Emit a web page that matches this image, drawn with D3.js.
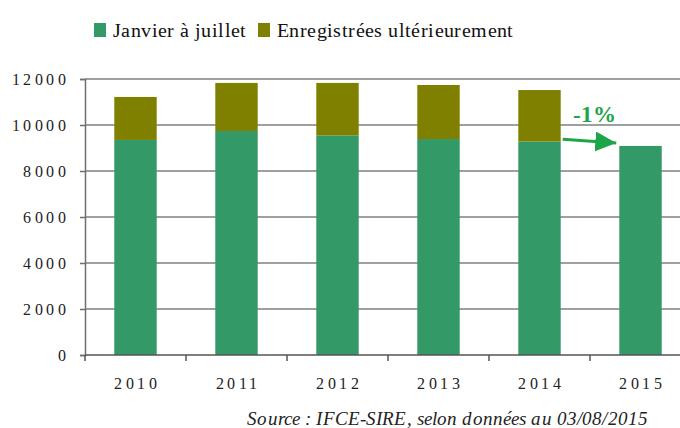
<!DOCTYPE html>
<html>
<head>
<meta charset="utf-8">
<script src="https://cdn.jsdelivr.net/npm/d3@7"></script>
<style>
    @font-face { font-family: "ChartSerif"; src: local("Liberation Serif"), local("LiberationSerif"); font-style: normal; font-weight: 400; }
    @font-face { font-family: "ChartSerif"; src: local("Liberation Serif Bold"), local("LiberationSerif-Bold"); font-style: normal; font-weight: 700; }
    @font-face { font-family: "ChartSerif"; src: local("Liberation Serif Italic"), local("LiberationSerif-Italic"); font-style: italic; font-weight: 400; }
    body { margin: 0; background: #fff; }
    svg { display: block; }
</style>
</head>
<body>
<div id="chart"></div>
<script>
const years = ["2010", "2011", "2012", "2013", "2014", "2015"];
const janToJuly = [9350, 9740, 9550, 9390, 9280, 9090];
const registeredLater = [1870, 2090, 2280, 2350, 2240, 0];
const yTicks = [0, 2000, 4000, 6000, 8000, 10000, 12000];
const seriesNames = ["Janvier à juillet", "Enregistrées ultérieurement"];
const trendLabel = "-1%";
const trendFrom = 9380, trendTo = 9220;

const colors = ["#339966", "#808000"];
const fontFam = "ChartSerif, 'Liberation Serif', 'Times New Roman'";

const width = 680, height = 428;
const margin = {top: 79, left: 85, bottom: 73};
const plotW = 606;

const svg = d3.select("#chart")
    .append("svg")
    .attr("width", width)
    .attr("height", height)
    .style("font-family", fontFam);

const x = d3.scaleBand()
    .domain(years)
    .range([margin.left, margin.left + plotW])
    .paddingInner(0.58)
    .paddingOuter(0.29);

const y = d3.scaleLinear()
    .domain([0, 12000])
    .range([height - margin.bottom, margin.top]);

// gridlines
svg.append("g")
    .selectAll("line")
    .data(yTicks.slice(1))
    .enter()
    .append("line")
    .attr("x1", margin.left)
    .attr("x2", margin.left + plotW)
    .attr("y1", d => y(d))
    .attr("y2", d => y(d))
    .attr("stroke", "#7f7f7f")
    .attr("stroke-width", 1.5);

// stacked bars
const rows = years.map((yr, i) => ({year: yr, a: janToJuly[i], b: registeredLater[i]}));
const stack = d3.stack().keys(["a", "b"])(rows);

svg.append("g")
    .selectAll("g")
    .data(stack)
    .enter()
    .append("g")
    .attr("fill", (d, i) => colors[i])
    .selectAll("rect")
    .data(d => d)
    .enter()
    .append("rect")
    .attr("x", d => x(d.data.year))
    .attr("width", x.bandwidth())
    .attr("y", d => y(d[1]))
    .attr("height", d => y(d[0]) - y(d[1]));

// y axis
const yAxis = svg.append("g")
    .attr("transform", "translate(" + margin.left + ",0)")
    .call(d3.axisLeft(y).tickValues(yTicks).tickSize(5).tickPadding(11).tickFormat(d3.format("d")));
yAxis.attr("font-family", null).attr("font-size", null);
yAxis.select(".domain").attr("stroke", "#6f6f6f").attr("stroke-width", 1.5);
yAxis.selectAll(".tick line").attr("stroke", "#6f6f6f").attr("stroke-width", 1.5);
yAxis.selectAll("text")
    .style("font-family", fontFam)
    .style("font-size", "16px")
    .style("letter-spacing", "3.5px")
    .attr("fill", "#222");

// x axis
const xAxisG = svg.append("g")
    .attr("transform", "translate(0," + y(0) + ")");
xAxisG.append("line")
    .attr("x1", margin.left)
    .attr("x2", margin.left + plotW)
    .attr("stroke", "#555")
    .attr("stroke-width", 1.5);
const boundaries = years.map((d, i) => margin.left + i * x.step());
xAxisG.selectAll("line.tk")
    .data(boundaries)
    .enter()
    .append("line")
    .attr("class", "tk")
    .attr("x1", d => d)
    .attr("x2", d => d)
    .attr("y1", 0)
    .attr("y2", 6)
    .attr("stroke", "#555")
    .attr("stroke-width", 1.5);
xAxisG.selectAll("text")
    .data(years)
    .enter()
    .append("text")
    .attr("x", d => x(d) + x.bandwidth() / 2 + 1.5)
    .attr("y", 34)
    .attr("text-anchor", "middle")
    .style("font-size", "16px")
    .style("letter-spacing", "3.5px")
    .attr("fill", "#222")
    .text(d => d);

// trend arrow
const arrowColor = "#1ea54a";
svg.append("defs").append("marker")
    .attr("id", "head")
    .attr("viewBox", "0 0 21 20")
    .attr("refX", 21).attr("refY", 10)
    .attr("markerWidth", 21).attr("markerHeight", 20)
    .attr("markerUnits", "userSpaceOnUse")
    .attr("orient", "auto")
    .append("path")
    .attr("d", "M0,0L21,10L0,20Z")
    .attr("fill", arrowColor);

svg.append("line")
    .attr("x1", x("2014") + x.bandwidth() + 2)
    .attr("y1", y(trendFrom))
    .attr("x2", x("2015") - 3)
    .attr("y2", y(trendTo))
    .attr("stroke", arrowColor)
    .attr("stroke-width", 3)
    .attr("marker-end", "url(#head)");

svg.append("text")
    .attr("x", 594)
    .attr("y", 122)
    .attr("text-anchor", "middle")
    .style("font-weight", "bold")
    .style("font-size", "23px")
    .attr("fill", arrowColor)
    .text(trendLabel);

// legend
const legendX = [94, 258];
const legend = svg.append("g")
    .selectAll("g")
    .data(seriesNames)
    .enter()
    .append("g")
    .attr("transform", (d, i) => "translate(" + legendX[i] + ",23)");
legend.append("rect")
    .attr("width", 12)
    .attr("height", 14)
    .attr("fill", (d, i) => colors[i]);
legend.append("text")
    .attr("x", 19)
    .attr("y", 14)
    .style("font-size", "20px")
    .style("letter-spacing", "0.4px")
    .attr("fill", "#111")
    .text(d => d);

// source
svg.append("text")
    .attr("x", 648)
    .attr("y", 425)
    .attr("text-anchor", "end")
    .style("font-style", "italic")
    .style("font-size", "19px")
    .style("letter-spacing", "0.12px")
    .attr("fill", "#222")
    .text("Source : IFCE-SIRE, selon données au 03/08/2015");
</script>
</body>
</html>
